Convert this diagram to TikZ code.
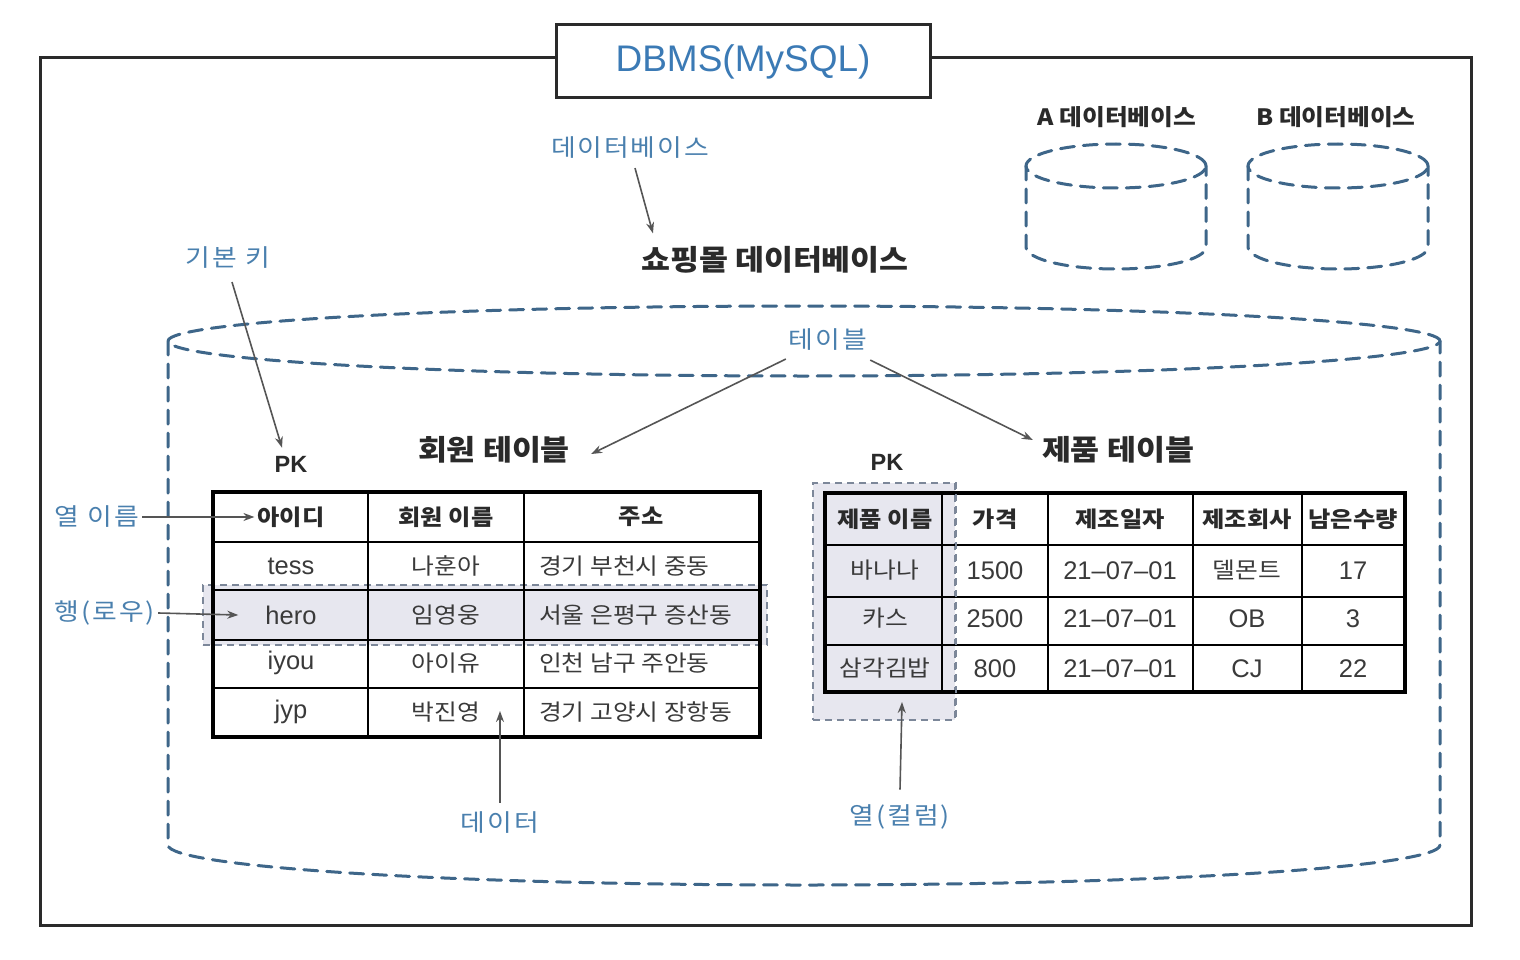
\documentclass[tikz,border=0pt]{standalone}
\usepackage{fontspec}
\setmainfont{Noto Sans CJK KR}[FakeStretch=1.1]
\newfontfamily\hand{Noto Sans CJK KR}[FakeStretch=1.12,LetterSpace=8]
\newfontfamily\lat{Liberation Sans}
\usetikzlibrary{arrows.meta}
\definecolor{dbblue}{HTML}{3B7AB5}
\definecolor{lblblue}{HTML}{4A80AE}
\definecolor{dashblue}{HTML}{3E6689}
\definecolor{ink}{HTML}{2A2A2A}
\definecolor{cellc}{HTML}{3A3A3A}
\definecolor{hl}{HTML}{E7E7EF}
\definecolor{hlline}{HTML}{7C8799}
\definecolor{arrowgray}{HTML}{555555}
\begin{document}
\begin{tikzpicture}[x=1pt,y=-1pt,
  cyl/.style={dashblue, line width=3pt, dash pattern=on 14pt off 9pt, line cap=round},
  hlbox/.style={fill=hl, draw=hlline, line width=2pt, dash pattern=on 7pt off 5pt},
  tabouter/.style={line width=4pt, draw=black},
  tabinner/.style={line width=2.5pt, draw=black},
  lbl/.style={text=lblblue, font=\hand\fontsize{24}{27}\selectfont, inner sep=3pt},
  titletext/.style={text=ink, font=\fontsize{28.6}{32}\selectfont\bfseries, inner sep=3pt},
  dbt/.style={text=ink, font=\fontsize{22.5}{26}\selectfont\bfseries, inner sep=3pt},
  pkt/.style={text=ink, font=\lat\fontsize{23.5}{26}\selectfont\bfseries, inner sep=3pt},
  hd/.style={text=ink, font=\fontsize{22}{26}\selectfont\bfseries, inner sep=3pt},
  cell/.style={text=cellc, font=\fontsize{22.5}{26}\selectfont, inner sep=3pt},
  latcell/.style={text=cellc, font=\lat\fontsize{25.5}{28}\selectfont, inner sep=3pt},
  ptr/.style={arrowgray, line width=1.6pt, -{Stealth[length=11pt,width=8pt]}},
]
\useasboundingbox (0,0) rectangle (1520,960);
\fill[white] (0,0) rectangle (1520,960);

% outer frame
\draw[line width=3pt, draw=ink] (40,58) rectangle (1471,925);
\node[draw=ink, line width=3pt, fill=white, minimum width=374pt, minimum height=73pt,
      text=dbblue, font=\lat\fontsize{37}{40}\selectfont] (dbms) at (743,61.5) {DBMS(MySQL)};

% small cylinders
\foreach \cx in {1116,1338}{
  \draw[cyl] (\cx,166) ellipse [x radius=90pt, y radius=22pt];
  \draw[cyl] (\cx-90,166) -- (\cx-90,247) arc[start angle=180, end angle=360, x radius=90pt, y radius=22pt] -- (\cx+90,166);
}
\node[dbt] (adb) at (1117,117) {A 데이터베이스};
\node[dbt] (bdb) at (1336,117) {B 데이터베이스};

% big cylinder
\draw[cyl] (804,341) ellipse [x radius=636pt, y radius=35pt];
\draw[cyl] (168,341) -- (168,845) arc[start angle=180, end angle=360, x radius=636pt, y radius=40pt] -- (1440,341);

\node[lbl] (dblbl) at (630,148) {데이터베이스};
\node[titletext] (shop) at (775,260) {쇼핑몰 데이터베이스};
\node[lbl] (tbllbl) at (828,340) {테이블};
\node[lbl] (pklbl) at (228,258) {기본 키};
\node[pkt] (pk1) at (291,464) {PK};
\node[titletext] (mtitle) at (494,450) {회원 테이블};
\node[pkt] (pk2) at (887,462) {PK};
\node[titletext] (ptitle) at (1118,450) {제품 테이블};

% highlight boxes
\node[hlbox, minimum width=564pt, minimum height=60pt] (rowhl) at (485,615) {};
\node[hlbox, minimum width=142pt, minimum height=237pt] (colhl) at (884,601.5) {};

% member table
\draw[tabinner] (213,542) -- (760,542) (213,590) -- (760,590) (213,640) -- (760,640) (213,688) -- (760,688);
\draw[tabinner] (368,492) -- (368,737) (524,492) -- (524,737);
\draw[tabouter] (213,492) rectangle (760,737);

\node[hd] (m11) at (291,517) {아이디};
\node[hd] (m12) at (446,517) {회원 이름};
\node[hd] (m13) at (641,517) {주소};
\node[latcell] (m21) at (291,566) {tess};
\node[cell] (m22) at (446,566) {나훈아};
\node[cell, anchor=west] (m23) at (536,566) {경기 부천시 중동};
\node[latcell] (m31) at (291,615) {hero};
\node[cell] (m32) at (446,615) {임영웅};
\node[cell, anchor=west] (m33) at (536,615) {서울 은평구 증산동};
\node[latcell] (m41) at (291,663) {iyou};
\node[cell] (m42) at (446,663) {아이유};
\node[cell, anchor=west] (m43) at (536,663) {인천 남구 주안동};
\node[latcell] (m51) at (291,712) {jyp};
\node[cell] (m52) at (446,712) {박진영};
\node[cell, anchor=west] (m53) at (536,712) {경기 고양시 장항동};

% product table
\draw[tabinner] (825,545) -- (1405,545) (825,597) -- (1405,597) (825,645) -- (1405,645);
\draw[tabinner] (942,493) -- (942,692) (1048,493) -- (1048,692) (1193,493) -- (1193,692) (1302,493) -- (1302,692);
\draw[tabouter] (825,493) rectangle (1405,692);
\draw[hlline, line width=2pt, dash pattern=on 7pt off 5pt] (colhl.north east) -- (colhl.south east);

\node[hd] (p11) at (885,519) {제품 이름};
\node[hd] (p12) at (995,519) {가격};
\node[hd] (p13) at (1120,519) {제조일자};
\node[hd] (p14) at (1247,519) {제조회사};
\node[hd] (p15) at (1353,519) {남은수량};
\node[cell] (p21) at (885,570) {바나나};
\node[latcell] (p22) at (995,571) {1500};
\node[latcell] (p23) at (1120,571) {21–07–01};
\node[cell] (p24) at (1247,570) {델몬트};
\node[latcell] (p25) at (1353,571) {17};
\node[cell] (p31) at (885,618) {카스};
\node[latcell] (p32) at (995,619) {2500};
\node[latcell] (p33) at (1120,619) {21–07–01};
\node[latcell] (p34) at (1247,619) {OB};
\node[latcell] (p35) at (1353,619) {3};
\node[cell] (p41) at (885,668) {삼각김밥};
\node[latcell] (p42) at (995,669) {800};
\node[latcell] (p43) at (1120,669) {21–07–01};
\node[latcell] (p44) at (1247,669) {CJ};
\node[latcell] (p45) at (1353,669) {22};

% side labels
\node[lbl] (collbl) at (97,517) {열 이름};
\node[lbl] (rowlbl) at (105,613) {행(로우)};
\node[lbl] (datalbl) at (500,823) {데이터};
\node[lbl] (colnlbl) at (900,817) {열(컬럼)};

\coordinate (dataptr) at (500,711);
\coordinate (colptr) at (902,702);

% arrows
\draw[ptr] ([xshift=5pt,yshift=-6pt]dblbl.south) -- ([xshift=15pt,yshift=10pt]shop.north west);
\draw[ptr] ([xshift=4pt,yshift=-10pt]pklbl.south) -- ([xshift=-9pt,yshift=5pt]pk1.north);
\draw[ptr] ([yshift=-5pt]tbllbl.south west) -- ([xshift=18pt,yshift=-4pt]mtitle.east);
\draw[ptr] ([yshift=-6pt]tbllbl.south east) -- ([xshift=-6pt,yshift=10pt]ptitle.west);
\draw[ptr] (collbl.east) -- (m11.west);
\draw[ptr] (rowlbl.east) -- ([xshift=-24pt]m31.west);
\draw[ptr] ([yshift=6pt]datalbl.north) -- (dataptr);
\draw[ptr] ([yshift=12pt]colnlbl.north) -- (colptr);
\end{tikzpicture}
\end{document}
